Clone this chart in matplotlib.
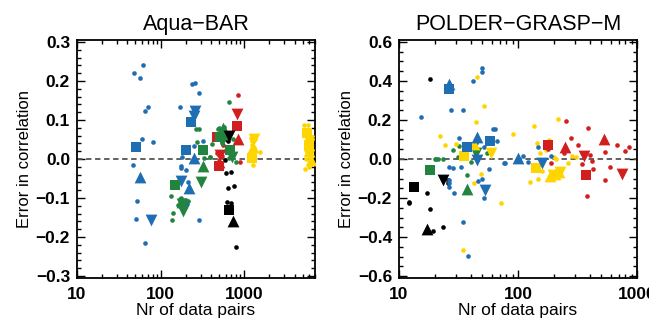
import matplotlib
matplotlib.use("Agg")
import matplotlib.pyplot as plt
from matplotlib.ticker import MultipleLocator, LogLocator, NullFormatter, FixedLocator, FixedFormatter

plt.rcParams['font.family'] = ['Liberation Sans', 'DejaVu Sans']

# ---------------- Left panel: Aqua-BAR ----------------
L_blue_dot_n = [61.7, 48.2, 56.4, 70.3, 65.7, 60, 80.7, 47.2, 51.9, 51, 65.7, 234, 257, 289, 171, 247, 318, 179, 177, 177, 202, 214, 190, 205, 285, 250, 245]
L_blue_dot_e = [0.242, 0.220, 0.207, 0.132, 0.122, 0.050, 0.044, -0.015, -0.107, -0.154, -0.216, 0.191, 0.194, 0.169, 0.132, 0.034, 0.045, 0.006, -0.018, -0.024, -0.029, -0.059, -0.112, -0.116, -0.156, 0.115, 0.105]
L_blue_sq_n = [51, 232, 202]
L_blue_sq_e = [0.031, 0.094, 0.024]
L_blue_up_n = [56.4, 252, 220]
L_blue_up_e = [-0.045, 0.002, -0.074]
L_blue_dn_n = [76, 257, 177, 250]
L_blue_dn_e = [-0.156, 0.122, -0.057, 0.110]

L_green_dot_n = [134, 168, 171, 198, 213, 159, 142, 138, 267, 284, 271, 385, 326, 496, 650, 490, 565, 410, 390, 740, 610, 665, 800, 540, 730, 185, 175]
L_green_dot_e = [-0.095, -0.103, -0.112, -0.106, -0.108, -0.118, -0.139, -0.157, 0.077, 0.077, 0.044, 0.004, 0.002, 0.080, 0.146, 0.077, 0.083, 0.038, 0.004, 0.050, 0.023, 0.002, -0.007, 0.040, 0.010, -0.125, -0.100]
L_green_sq_n = [149, 320, 516, 679]
L_green_sq_e = [-0.067, 0.024, 0.056, 0.024]
L_green_up_n = [323, 550, 580, 180]
L_green_up_e = [-0.017, 0.080, 0.065, -0.110]
L_green_dn_n = [304, 181, 185, 710, 540]
L_green_dn_e = [-0.060, -0.116, -0.133, 0.006, 0.045]

L_red_dot_n = [840, 475, 520, 545, 880, 560, 500]
L_red_dot_e = [0.165, 0.015, 0.012, 0.008, -0.007, 0.035, 0.010]
L_red_sq_n = [471, 818, 503]
L_red_sq_e = [0.056, 0.084, -0.017]
L_red_up_n = [840, 500]
L_red_up_e = [0.052, -0.008]
L_red_dn_n = [818, 510]
L_red_dn_e = [0.115, 0.010]

L_black_dot_n = [590, 610, 690, 635, 760, 620, 700, 795, 640, 600]
L_black_dot_e = [-0.003, -0.037, -0.034, -0.074, -0.068, -0.111, -0.114, -0.226, 0.045, 0.050]
L_black_sq_n = [660]
L_black_sq_e = [-0.130]
L_black_up_n = [725]
L_black_up_e = [-0.160]
L_black_dn_n = [665]
L_black_dn_e = [0.059]

L_yellow_dot_n = [1200, 1350, 1230, 1300, 1530, 1270, 1250, 1320, 5220, 5800, 6000, 6300, 5500, 6200, 6500, 5300, 5700]
L_yellow_dot_e = [0.055, 0.050, 0.035, 0.028, 0.018, -0.015, 0.045, 0.012, 0.088, 0.088, -0.020, -0.010, 0.000, 0.030, 0.050, -0.025, 0.075]
L_yellow_sq_n = [1236, 5640, 5900]
L_yellow_sq_e = [0.002, 0.066, 0.035]
L_yellow_up_n = [1280, 6190, 6000]
L_yellow_up_e = [0.030, -0.003, 0.020]
L_yellow_dn_n = [1300, 5900, 6000]
L_yellow_dn_e = [0.052, 0.010, 0.045]

# ---------------- Right panel: POLDER-GRASP-M ----------------
R_black_dot_n = [18.2, 12.2, 12.2, 17.1, 18.2, 23.3, 19.2, 26, 26]
R_black_dot_e = [0.41, -0.218, -0.226, -0.173, -0.255, -0.349, -0.369, -0.122, -0.108]
R_black_sq_n = [13.4]
R_black_sq_e = [-0.145]
R_black_up_n = [17.3]
R_black_up_e = [-0.361]
R_black_dn_n = [23.3]
R_black_dn_e = [-0.106]

R_green_dot_n = [20.4, 21.2, 23.3, 28.3, 31.6, 32.2, 37.1, 40.1, 54.7, 20]
R_green_dot_e = [0.0, 0.0, 0.0, 0.044, 0.012, 0.065, -0.084, -0.015, 0.029, 0.002]
R_green_sq_n = [18.2]
R_green_sq_e = [-0.055]
R_green_up_n = [37.1]
R_green_up_e = [-0.156]
R_green_dn_n = [44.4]
R_green_dn_e = [0.029]

R_blue_dot_n = [15.2, 27.4, 34.4, 50.3, 50.3, 42.2, 62.2, 64.5, 66.3, 52, 32.2, 26.3, 28.3, 33.2, 26.3, 26.3, 26.3, 29.2, 57.2, 50.3, 46.2, 51.8, 34.4, 38.3, 76, 111, 121, 148, 188, 146, 189, 78, 44.5, 36.5]
R_blue_dot_e = [0.213, 0.253, 0.253, 0.465, 0.445, 0.40, 0.155, 0.155, 0.092, 0.059, 0.107, -0.042, -0.045, -0.042, -0.106, -0.122, -0.143, -0.173, -0.05, -0.10, -0.111, -0.2, -0.321, -0.495, -0.02, 0.017, -0.013, 0.059, 0.017, -0.034, -0.096, -0.02, 0.08, 0.02]
R_blue_sq_n = [26.3, 37.1, 58.4]
R_blue_sq_e = [0.361, 0.062, 0.092]
R_blue_up_n = [26.3, 45.3, 100.9]
R_blue_up_e = [0.385, 0.112, 0.003]
R_blue_dn_n = [45.3, 53, 158]
R_blue_dn_e = [-0.005, -0.161, -0.018]

R_yellow_dot_n = [45.6, 51.3, 44.2, 22.1, 24.3, 30.2, 43, 49.3, 34.4, 71.3, 90, 135, 216, 145, 182, 154, 172, 199, 284, 263, 126, 148, 307, 160, 210]
R_yellow_dot_e = [0.418, 0.272, 0.19, 0.116, 0.072, 0.079, -0.122, -0.077, -0.465, -0.227, 0.13, 0.168, 0.207, 0.081, 0.099, 0.029, 0.045, 0.009, 0.017, -0.022, -0.116, -0.102, 0.009, -0.06, 0.0]
R_yellow_sq_n = [35.1, 141]
R_yellow_sq_e = [0.015, -0.044]
R_yellow_up_n = [42.8, 187, 206, 219]
R_yellow_up_e = [0.076, -0.086, -0.076, -0.066]
R_yellow_dn_n = [59.2, 195, 225]
R_yellow_dn_e = [0.029, -0.08, -0.065]

R_red_dot_n = [254, 386, 278, 322, 405, 417, 348, 423, 382, 535, 593, 536, 675, 789, 849, 189, 243, 180]
R_red_dot_e = [0.193, 0.16, 0.107, 0.074, 0.02, -0.009, -0.025, -0.049, -0.188, -0.109, -0.04, 0.037, 0.071, 0.042, 0.06, -0.022, 0.029, 0.05]
R_red_sq_n = [178, 375]
R_red_sq_e = [0.074, -0.084]
R_red_up_n = [247, 524]
R_red_up_e = [0.062, 0.104]
R_red_dn_n = [357, 748]
R_red_dn_e = [0.015, -0.076]

COLORS = {'blue': '#1f6db3', 'green': '#23843f', 'red': '#d11f1f',
          'black': '#000000', 'yellow': '#ffd500'}

fig = plt.figure(figsize=(6.49, 3.2), dpi=100)
axL = fig.add_axes([77/649, 42/320, 238/649, 238/320])
axR = fig.add_axes([399/649, 42/320, 238/649, 238/320])

def draw(ax, groups):
    for col, dots, sq, up, dn in groups:
        ax.scatter(dots[0], dots[1], s=11, c=COLORS[col], marker='o', linewidths=0, zorder=3)
    for col, dots, sq, up, dn in groups:
        ax.scatter(sq[0], sq[1], s=62, c=COLORS[col], marker='s', linewidths=0, zorder=4)
        ax.scatter(up[0], up[1], s=72, c=COLORS[col], marker='^', linewidths=0, zorder=4)
        ax.scatter(dn[0], dn[1], s=72, c=COLORS[col], marker='v', linewidths=0, zorder=4)

draw(axL, [
    ('blue', (L_blue_dot_n, L_blue_dot_e), (L_blue_sq_n, L_blue_sq_e), (L_blue_up_n, L_blue_up_e), (L_blue_dn_n, L_blue_dn_e)),
    ('red', (L_red_dot_n, L_red_dot_e), (L_red_sq_n, L_red_sq_e), (L_red_up_n, L_red_up_e), (L_red_dn_n, L_red_dn_e)),
    ('green', (L_green_dot_n, L_green_dot_e), (L_green_sq_n, L_green_sq_e), (L_green_up_n, L_green_up_e), (L_green_dn_n, L_green_dn_e)),
    ('black', (L_black_dot_n, L_black_dot_e), (L_black_sq_n, L_black_sq_e), (L_black_up_n, L_black_up_e), (L_black_dn_n, L_black_dn_e)),
    ('yellow', (L_yellow_dot_n, L_yellow_dot_e), (L_yellow_sq_n, L_yellow_sq_e), (L_yellow_up_n, L_yellow_up_e), (L_yellow_dn_n, L_yellow_dn_e)),
])
draw(axR, [
    ('black', (R_black_dot_n, R_black_dot_e), (R_black_sq_n, R_black_sq_e), (R_black_up_n, R_black_up_e), (R_black_dn_n, R_black_dn_e)),
    ('green', (R_green_dot_n, R_green_dot_e), (R_green_sq_n, R_green_sq_e), (R_green_up_n, R_green_up_e), (R_green_dn_n, R_green_dn_e)),
    ('yellow', (R_yellow_dot_n, R_yellow_dot_e), (R_yellow_sq_n, R_yellow_sq_e), (R_yellow_up_n, R_yellow_up_e), (R_yellow_dn_n, R_yellow_dn_e)),
    ('blue', (R_blue_dot_n, R_blue_dot_e), (R_blue_sq_n, R_blue_sq_e), (R_blue_up_n, R_blue_up_e), (R_blue_dn_n, R_blue_dn_e)),
    ('red', (R_red_dot_n, R_red_dot_e), (R_red_sq_n, R_red_sq_e), (R_red_up_n, R_red_up_e), (R_red_dn_n, R_red_dn_e)),
])

def style(ax, title, xlim, ylim, ymaj, ymin_step, yfmt, xticks):
    ax.set_xscale('log')
    ax.set_xlim(*xlim)
    ax.set_ylim(*ylim)
    ax.axhline(0, color='#555555', lw=1.3, ls=(0, (3, 2)), zorder=2)
    ax.xaxis.set_major_locator(FixedLocator(xticks))
    ax.xaxis.set_major_formatter(FixedFormatter([str(t) for t in xticks]))
    ax.xaxis.set_minor_locator(LogLocator(base=10, subs=range(2, 10)))
    ax.xaxis.set_minor_formatter(NullFormatter())
    ax.yaxis.set_major_locator(MultipleLocator(ymaj))
    ax.yaxis.set_minor_locator(MultipleLocator(ymin_step))
    ax.yaxis.set_major_formatter(plt.FuncFormatter(lambda v, p: (yfmt % v).replace('-', '\u2212')))
    ax.tick_params(which='both', direction='in', top=True, right=True, width=1.0)
    ax.tick_params(which='major', length=6, labelsize=12.5, pad=5)
    ax.tick_params(axis='x', which='major', pad=6.5)
    ax.tick_params(which='minor', length=3)
    for lab in ax.get_xticklabels() + ax.get_yticklabels():
        lab.set_fontweight('bold')
    for sp in ax.spines.values():
        sp.set_linewidth(1.3)
    ax.set_title(title, fontsize=15.5, pad=7)
    ax.set_xlabel('Nr of data pairs', fontsize=12.5, labelpad=1)
    ax.set_ylabel('Error in correlation', fontsize=12, labelpad=3)

style(axL, 'Aqua\u2212BAR', (10, 7000), (-0.305, 0.305), 0.1, 0.02, '%.1f', [10, 100, 1000])
style(axR, 'POLDER\u2212GRASP\u2212M', (10, 1000), (-0.61, 0.61), 0.2, 0.05, '%.1f', [10, 100, 1000])

fig.savefig('out.png', dpi=100)
